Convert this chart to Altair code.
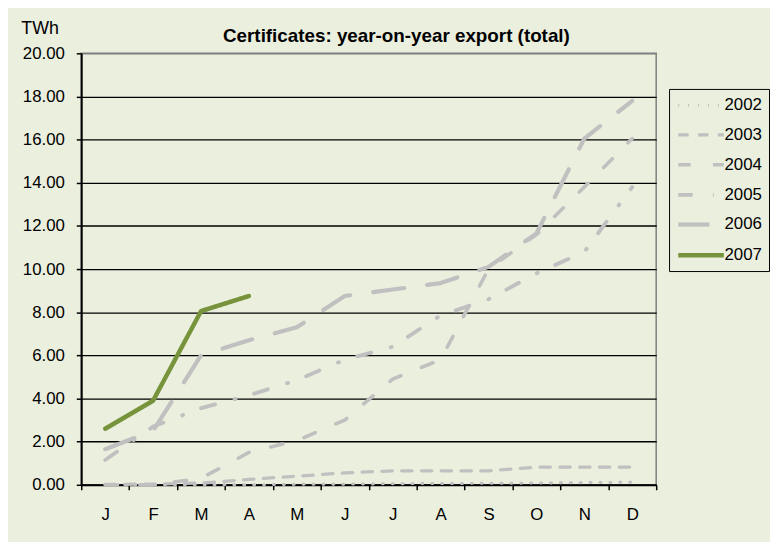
import altair as alt
import pandas as pd

# ---- data ----
month_letters = ["J", "F", "M", "A", "M", "J", "J", "A", "S", "O", "N", "D"]
month_index = list(range(1, 13))
years = ["2002", "2003", "2004", "2005", "2006", "2007"]
v2002 = [0.00, 0.00, 0.00, 0.00, 0.02, 0.03, 0.05, 0.06, 0.07, 0.08, 0.10, 0.12]
v2003 = [0.02, 0.03, 0.08, 0.25, 0.40, 0.55, 0.65, 0.65, 0.65, 0.82, 0.82, 0.82]
v2004 = [0.00, 0.00, 0.30, 1.50, 2.05, 3.00, 4.90, 5.80, 10.00, 11.60, 13.80, 16.05]
v2005 = [1.15, 2.70, 3.55, 4.15, 4.85, 5.80, 6.40, 7.85, 8.60, 9.80, 10.80, 13.80]
v2006 = [1.65, 2.50, 6.00, 6.70, 7.30, 8.75, 9.05, 9.35, 10.10, 11.65, 16.05, 17.80]
v2007 = [2.60, 3.90, 8.05, 8.75]
y_ticks = [0, 2, 4, 6, 8, 10, 12, 14, 16, 18, 20]

series = [v2002, v2003, v2004, v2005, v2006, v2007]
rows = []
for yr, vals in zip(years, series):
    for m, v in zip(month_index, vals):
        rows.append({"year": yr, "m": m, "value": v})
df = pd.DataFrame(rows)

# ---- styles ----
BG = "#EBEFDE"
FONT = "Liberation Sans"
color_range = ["#C0C0C0", "#C0C0C0", "#C0C0C0", "#C0C0C0", "#C0C0C0", "#77933C"]
dash_range = [[1, 9], [10.5, 9.5], [12.5, 22.5], [14.5, 20.5, 1, 19.5], [31.5, 23.5], [1, 0]]
width_range = [3, 4.5, 4.5, 4.5, 4.5, 4]

label_js = "[" + ",".join("'%s'" % s for s in month_letters) + "]"

legend = alt.Legend(
    title=None, orient="none", legendX=594, legendY=36,
    padding=7, rowPadding=12, symbolType="M-1,0H5", symbolSize=235,
    symbolStrokeWidth=3.5, strokeColor="#000000", fillColor=BG,
    labelFontSize=17, labelFont=FONT, labelColor="#000000", labelOffset=29,
)

chart = alt.Chart(df).mark_line(strokeCap="round", strokeJoin="round").encode(
    x=alt.X("m:O", bandPosition=0.5,
            scale=alt.Scale(type="band", paddingInner=0, paddingOuter=0),
            axis=alt.Axis(title=None, labelExpr=label_js + "[datum.value-1]",
                          labelAngle=0, tickBand="extent", grid=False,
                          labelFontSize=17, labelFont=FONT, labelColor="#000000",
                          labelPadding=17, domainColor="#000000", domainWidth=2,
                          tickColor="#000000", tickWidth=1.5, tickSize=5)),
    y=alt.Y("value:Q", scale=alt.Scale(domain=[0, 20], nice=False, zero=True),
            axis=alt.Axis(values=y_ticks, format=".2f", title="TWh",
                          titleAngle=0, titleAlign="left", titleBaseline="middle",
                          titleX=-61, titleY=-25, titleFontWeight="normal",
                          titleFontSize=18, titleFont=FONT, titleColor="#000000",
                          labelFontSize=17, labelFont=FONT, labelColor="#000000",
                          labelPadding=12, domainColor="#000000", domainWidth=2,
                          tickColor="#000000", tickWidth=1.5, tickSize=5,
                          grid=True, gridWidth=1.3,
                          gridColor={"condition": {"test": "datum.value == 20", "value": "#7F7F7F"},
                                     "value": "#000000"})),
    color=alt.Color("year:N", scale=alt.Scale(domain=years, range=color_range), legend=legend),
    strokeDash=alt.StrokeDash("year:N", scale=alt.Scale(domain=years, range=dash_range), legend=legend),
    strokeWidth=alt.StrokeWidth("year:N", scale=alt.Scale(domain=years, range=width_range), legend=None),
).properties(
    width=581, height=436,
    padding={"left": 74, "top": 43, "right": 115, "bottom": 55},
    autosize=alt.AutoSizeParams(type="none"),
    background=BG,
    title=alt.TitleParams("Certificates: year-on-year export (total)", fontSize=19,
                          fontWeight="bold", font=FONT, color="#000000",
                          anchor="middle", frame="group", dx=28, dy=37, offset=10),
).configure_view(stroke="#7F7F7F", strokeWidth=1.5)

chart.save("out.html", embed_options={"renderer": "svg", "actions": False})
